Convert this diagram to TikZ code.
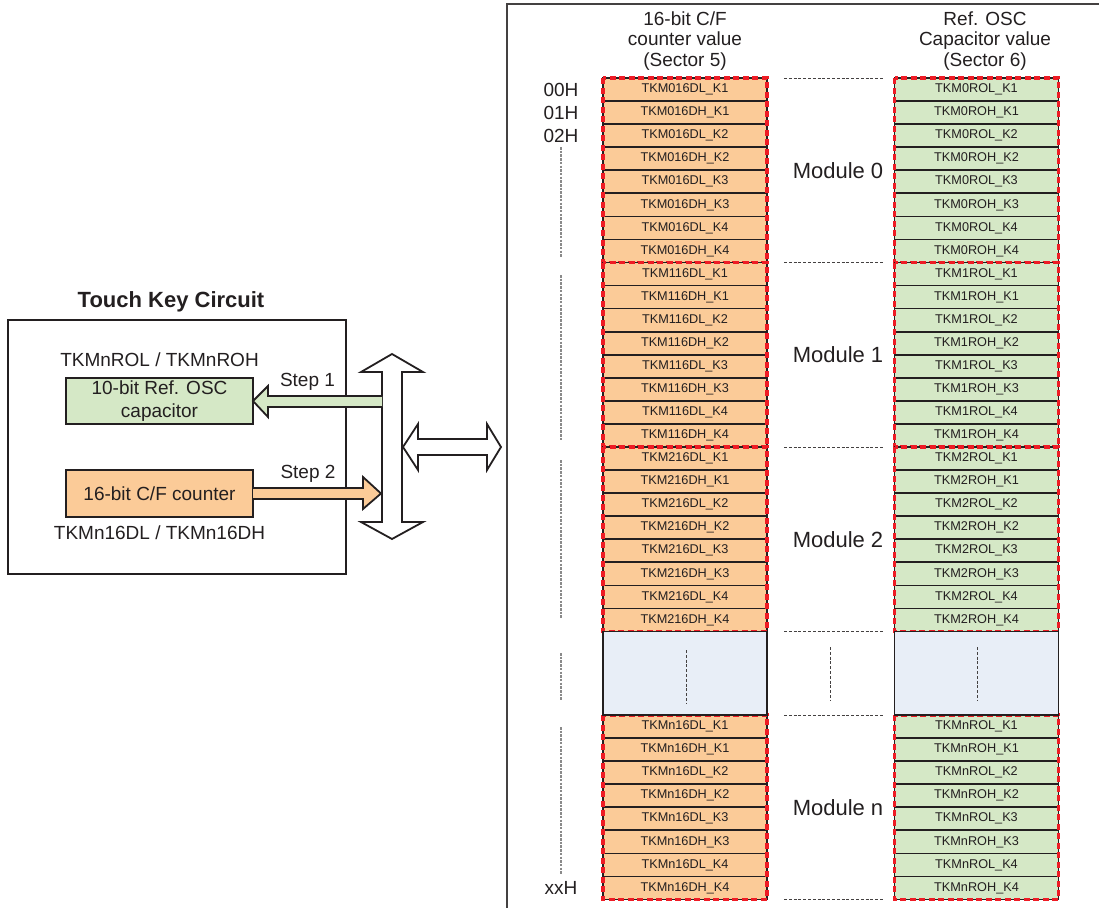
\documentclass[tikz,border=0pt]{standalone}
\usepackage{fontspec}
\setmainfont{Liberation Sans}
\usetikzlibrary{calc}
\definecolor{ink}{HTML}{231F20}
\definecolor{peach}{HTML}{FBCB98}
\definecolor{mint}{HTML}{D5E8C6}
\definecolor{haze}{HTML}{E8EEF7}
\definecolor{redd}{HTML}{EE1C25}
\definecolor{guidegray}{HTML}{8A8A8A}
\begin{document}
\begin{tikzpicture}[x=1pt,y=-1pt,
  cellbase/.style={draw=ink, line width=1.7pt, minimum width=164pt, minimum height=23.06pt,
    inner sep=0pt, outer sep=0pt, text=ink, font=\fontsize{12.7}{14}\selectfont},
  cellL/.style={cellbase, fill=peach},
  cellR/.style={cellbase, fill=mint},
  blankbox/.style={draw=ink, line width=1.8pt, fill=haze, minimum width=164pt, minimum height=83.5pt, inner sep=0pt, outer sep=0pt},
  modbox/.style={draw=redd, line width=3.6pt, dash pattern=on 6pt off 3.5pt},
  guide/.style={draw=guidegray, line width=1.4pt, dash pattern=on 2.5pt off 1.2pt},
  sepline/.style={draw=ink!85, line width=0.8pt, dash pattern=on 3pt off 1.8pt},
  lbl/.style={font=\fontsize{19}{20.5}\selectfont, text=ink, align=center, inner sep=0pt},
  modlbl/.style={font=\fontsize{22}{24}\selectfont, text=ink, inner sep=0pt},
  boxlbl/.style={draw=ink, line width=1.8pt, minimum width=187pt, inner sep=0pt, outer sep=0pt,
    font=\fontsize{19}{23}\selectfont, text=ink, align=center},
  blockline/.style={draw=ink, line width=1.8pt, line join=miter},
]
\useasboundingbox (0,0) rectangle (1099,907);

% right frame
\draw[draw=ink!85, line width=2pt] (507,910) -- (507,4) -- (1102,4);

% headers
\node[lbl] (H5) at (685,41) {16-bit C/F\\counter value\\(Sector 5)};
\node[lbl] (H6) at (985,41) {Ref. OSC\\Capacitor value\\(Sector 6)};

% address labels
\node[lbl] (A00) at (561,89.5) {00H};
\node[lbl] (A01) at (561,112.6) {01H};
\node[lbl] (A02) at (561,135.6) {02H};
\node[lbl] (Axx) at (561,888) {xxH};

% cells
\foreach \m/\top in {0/78,1/262.5,2/447,n/715}{
  \foreach \r/\s/\k in {1/L/1,2/H/1,3/L/2,4/H/2,5/L/3,6/H/3,7/L/4,8/H/4}{
    \node[cellL] (L\m-\r) at (685,{\top+(\r-0.5)*23.06}) {TKM\m16D\s\_K\k};
    \node[cellR] (R\m-\r) at (976.5,{\top+(\r-0.5)*23.06}) {TKM\m{}RO\s\_K\k};
  }
  \draw[modbox] (L\m-1.north west) rectangle (L\m-8.south east);
  \draw[modbox] (R\m-1.north west) rectangle (R\m-8.south east);
  \node[modlbl] (M\m) at (838,{\top+92.25}) {Module \m};
}

% blank section
\node[blankbox] (BL) at (685,673.25) {};
\node[blankbox] (BR) at (976.5,673.25) {};
\draw[sepline] (686,650) -- (686,703);
\draw[sepline] (830,647) -- (830,700);
\draw[sepline] (977,647) -- (977,700);

% horizontal separators between columns
\foreach \yy in {78,262.5,447,631.5,715,899.5}{
  \draw[sepline] (784,\yy) -- (884,\yy);
}

% left guides
\draw[guide] (561,147) -- (561,257);
\draw[guide] (561,275) -- (561,440);
\draw[guide] (561,460) -- (561,619);
\draw[guide] (561,653) -- (561,701);
\draw[guide] (561,727) -- (561,874);

% touch key circuit
\node[font=\bfseries\fontsize{22}{24}\selectfont, text=ink, inner sep=0pt] (title) at (171,302) {Touch Key Circuit};
\node[draw=ink, line width=1.8pt, minimum width=338pt, minimum height=254pt, inner sep=0pt, outer sep=0pt] (tkc) at (177,447) {};
\node[lbl] (rolab) at (159.5,360) {TKMnROL / TKMnROH};
\node[boxlbl, fill=mint, minimum height=46pt] (refosc) at (159.5,401) {10-bit Ref. OSC\\capacitor};
\node[boxlbl, fill=peach, minimum height=47pt] (cfc) at (159.5,493.5) {16-bit C/F counter};
\node[lbl] (dlab) at (159.5,533) {TKMn16DL / TKMn16DH};
\node[lbl] (st1) at (307.5,382) {Step 1};
\node[lbl] (st2) at (308,474) {Step 2};

% bus arrow (vertical double)
\coordinate (bustop) at (392,354);
\coordinate (busbot) at (392,539);
\filldraw[blockline, fill=white] (bustop) -- (423,372) -- (402,372) -- (402,522) -- (423,522) -- (busbot)
  -- (361,522) -- (382,522) -- (382,372) -- (361,372) -- cycle;

% horizontal double arrow
\filldraw[blockline, fill=white] (403,447) -- (418,424) -- (418,439) -- (487,439) -- (487,424) -- (501,447)
  -- (487,470) -- (487,455) -- (418,455) -- (418,470) -- cycle;

% green arrow: bus -> ref osc
\fill[mint] (382,396) -- (268,396) -- (268,386) -- (refosc.east) -- (268,417) -- (268,407) -- (382,407) -- cycle;
\draw[blockline] (382,396) -- (268,396) -- (268,386) -- (refosc.east) -- (268,417) -- (268,407) -- (382,407);

% orange arrow: counter -> bus
\fill[peach] (cfc.east |- 0,488) -- (363,488) -- (363,477) -- (381,493.5) -- (363,509) -- (363,499) -- (cfc.east |- 0,499) -- cycle;
\draw[blockline] (cfc.east |- 0,488) -- (363,488) -- (363,477) -- (381,493.5) -- (363,509) -- (363,499) -- (cfc.east |- 0,499);
\end{tikzpicture}
\end{document}
